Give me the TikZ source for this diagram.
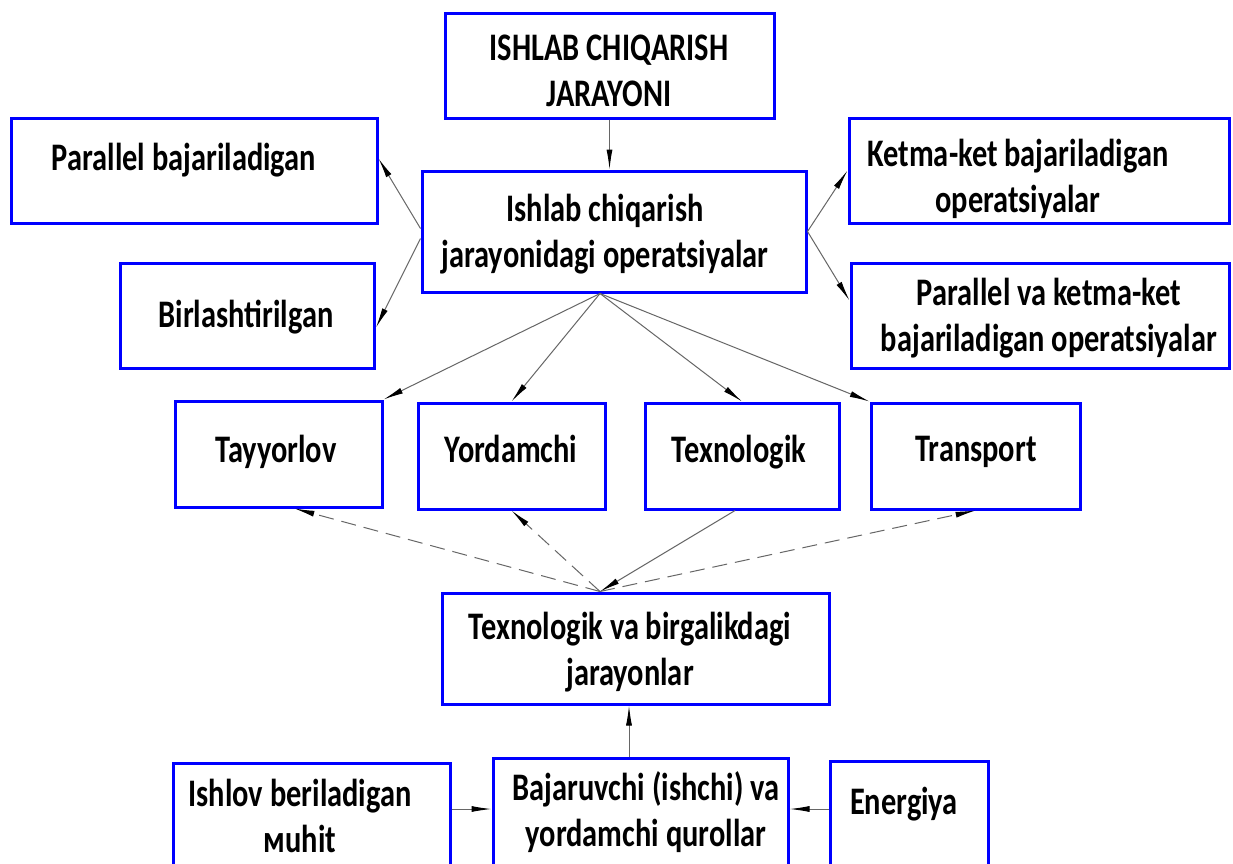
\documentclass[tikz,border=0pt]{standalone}
\usepackage{fontspec}
\setmainfont{Carlito}[FakeStretch=0.78]
\usepackage{tikz}
\usetikzlibrary{arrows.meta}

\begin{document}
\begin{tikzpicture}[x=1pt,y=-1pt,
  blok/.style={draw=blue,line width=3pt,inner sep=0pt},
  matn/.style={font=\fontsize{39}{46}\selectfont\bfseries,align=center,inner sep=0pt},
  strelka/.style={draw=black!60,line width=1pt,-{Latex[length=20pt,width=6pt,color=black]}},
  shtrix/.style={strelka,dash pattern=on 15pt off 8pt}]
\useasboundingbox (0,0) rectangle (1233,863);
\clip (0,0) rectangle (1233,863);
\fill[white] (0,0) rectangle (1233,863);
\node[blok,minimum width=329pt,minimum height=105pt] (b-top) at (609.5,65.5) {};
\node[blok,minimum width=366pt,minimum height=105pt] (b-par) at (194,170.5) {};
\node[blok,minimum width=384pt,minimum height=121pt] (b-ops) at (614,231.5) {};
\node[blok,minimum width=380pt,minimum height=105pt] (b-ketma) at (1039,170.5) {};
\node[blok,minimum width=254pt,minimum height=105pt] (b-birl) at (247.5,315.5) {};
\node[blok,minimum width=378pt,minimum height=105pt] (b-pvk) at (1040,315.5) {};
\node[blok,minimum width=207pt,minimum height=106pt] (b-tay) at (278.5,454) {};
\node[blok,minimum width=187pt,minimum height=106pt] (b-yor) at (511.5,456) {};
\node[blok,minimum width=194pt,minimum height=106pt] (b-tex) at (742,456) {};
\node[blok,minimum width=209pt,minimum height=106pt] (b-tra) at (975.5,456) {};
\node[blok,minimum width=387pt,minimum height=111pt] (b-tv) at (635.5,648.5) {};
\node[blok,minimum width=277pt,minimum height=130pt] (b-ish) at (311.5,828) {};
\node[blok,minimum width=295pt,minimum height=130pt] (b-baj) at (640.5,823) {};
\node[blok,minimum width=158pt,minimum height=130pt] (b-en) at (909,826) {};
\node[matn] (t-top) at (609,70.5) {ISHLAB CHIQARISH\\JARAYONI};
\node[matn] (t-par) at (184,160) {Parallel bajariladigan};
\node[matn] (t-ops) at (605,234) {Ishlab chiqarish\\jarayonidagi operatsiyalar};
\node[matn] (t-ketma) at (1018,179) {Ketma-ket bajariladigan\\operatsiyalar};
\node[matn] (t-birl) at (246,317) {Birlashtirilgan};
\node[matn] (t-pvk) at (1049,318) {Parallel va ketma-ket\\bajariladigan operatsiyalar};
\node[matn] (t-tay) at (276,452) {Tayyorlov};
\node[matn] (t-yor) at (511,449) {Yordamchi};
\node[matn] (t-tex) at (739,452) {Texnologik};
\node[matn] (t-tra) at (976,452) {Transport};
\node[matn] (t-tv) at (630,652.5) {Texnologik va birgalikdagi\\jarayonlar};
\node[matn] (t-ish) at (300,815.5) {Ishlov beriladigan\\мuhit};
\node[matn] (t-baj) at (646,812.5) {Bajaruvchi (ishchi) va\\yordamchi qurollar};
\node[matn] (t-en) at (904,804) {Energiya};
\coordinate (c-ops) at ([xshift=-14pt]b-ops.south);
\coordinate (c-tv) at ([xshift=-35.5pt]b-tv.north);
\draw[strelka] (b-top.south) -- (b-top.south |- b-ops.north);
\draw[strelka] ([yshift=3pt]b-ops.west) -- ([yshift=12pt]b-par.east);
\draw[strelka] ([yshift=-7pt]b-ops.west) -- ([yshift=-12pt]b-birl.east);
\draw[strelka] (b-ops.east) -- (b-ketma.west);
\draw[strelka] (b-ops.east) -- ([yshift=15pt]b-pvk.west);
\draw[strelka] (c-ops) -- (b-tay.north east);
\draw[strelka] (c-ops) -- (b-yor.north);
\draw[strelka] (c-ops) -- (b-tex.north);
\draw[strelka] (c-ops) -- (b-tra.north west);
\draw[shtrix] (c-tv) -- ([xshift=16pt]b-tay.south);
\draw[shtrix] (c-tv) -- (b-yor.south);
\draw[shtrix] (c-tv) -- (b-tra.south);
\draw[strelka] ([xshift=-7pt]b-tex.south) -- (c-tv);
\draw[strelka] ([xshift=-11.5pt]b-baj.north) -- ([xshift=-11.5pt]b-baj.north |- b-tv.south);
\draw[strelka] ([yshift=19pt]b-ish.east) -- ([yshift=14pt]b-baj.west);
\draw[strelka] ([yshift=17pt]b-en.west) -- ([yshift=14pt]b-baj.east);
\end{tikzpicture}
\end{document}
